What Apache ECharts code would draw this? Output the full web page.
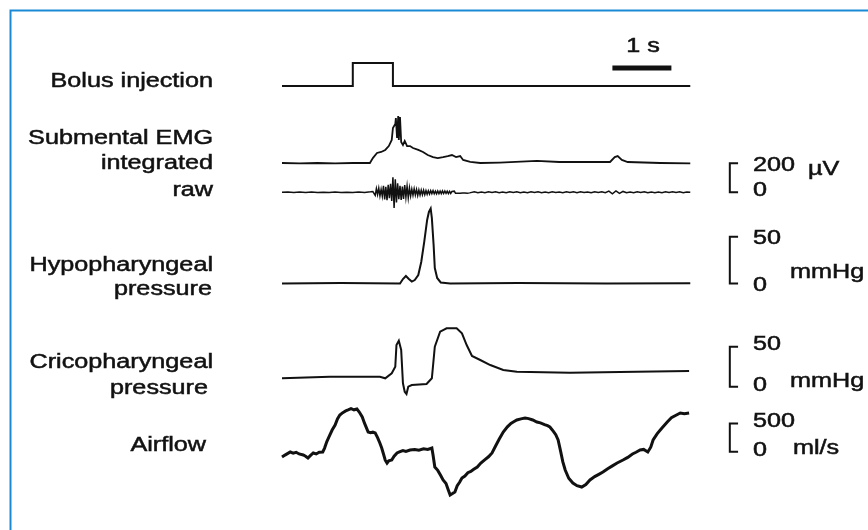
<!DOCTYPE html>
<html><head><meta charset="utf-8">
<script src="https://cdn.jsdelivr.net/npm/echarts@6/dist/echarts.min.js"></script>
<style>html,body{margin:0;padding:0;background:#fff}#c{width:868px;height:530px}</style>
</head><body><div id="c"></div>
<script>
// ---- data (time in s, values in physical units) ----
const bolus = [[0,0],[1.2,0],[1.2,1],[1.88,1],[1.88,0],[6.92,0]];
const timeBar = [[5.6,0.78],[6.6,0.78]];
const emgInt = [[0,0],[0.3,-2],[0.6,0],[0.9,-2],[1.2,0],[1.49,0],[1.54,34],[1.61,69],[1.68,76],[1.75,90],[1.81,117],[1.86,159],[1.88,241],[1.92,269],[1.93,310],[1.95,172],[1.97,324],[1.98,159],[2.0,317],[2.02,145],[2.05,124],[2.08,152],[2.12,117],[2.17,117],[2.22,103],[2.31,90],[2.39,76],[2.47,55],[2.56,41],[2.64,34],[2.73,41],[2.81,48],[2.88,55],[2.95,41],[3.02,48],[3.07,21],[3.19,7],[3.36,0],[3.69,3],[4.32,14],[4.7,7],[5.05,7],[5.56,7],[5.64,41],[5.69,48],[5.76,21],[5.86,7],[6.41,0],[6.92,-3]];
const rawPre = [0,2,-2,2,-1,2,-2,1,-2,2,-2,1,-2,2,-1];            // t = 0 .. 1.4, step 0.1
const rawBurst = [3,-4,5, 18,-22,26,-15,28,-25,20,-27, 45,-50,38,-55,52,-40,58, -60,104,-108,90,-70,62,
  -48,45,-52,40,-46,50,-35,42,-38,30, -25,22,-20,24,-18,20,-22,16,-19,15,-17,14,-16,12,-14,
  10,-12,11,-9,12,-10,8,-11,9,-10,8,-9,10,-8,9,-7,8,-9,7,-8,6,-7,8,-6,7,-6,5,-7,6,-5,6,-5,4,-6,5,-4,5]; // t = 1.5 .. 3.2, step 0.02
const rawPost = [3,-3,2,-3,3,-2,3,-3,2,-3,3,-2,3,-3,2,-3,3,-2,3,-3,2,-3,3,-2,2,-3,3,-2,3,-3,3,-2,2,-3,3,-2,3,-3,
  8,-10,9,-8,6, -3,2,-3,3,-2,3,-3,2,-3,2,-3,3,-2,3,-2,3,-3,2,0]; // t = 3.26 .. 6.92, step 0.06
const hypo = [[0,0],[1.0,0.5],[2.0,0],[2.05,4.8],[2.10,8.0],[2.15,4.8],[2.20,2.1],[2.25,3.7],[2.31,9.1],[2.36,23],[2.41,44.4],[2.46,68],[2.49,76.6],[2.52,80.3],[2.54,70],[2.57,41],[2.59,16.6],[2.63,5.9],[2.69,1.1],[2.85,0],[4.0,0.5],[5.5,0],[6.92,0.3]];
const crico = [[0,10.5],[0.81,12.5],[1.66,12.5],[1.75,10.5],[1.86,16.8],[1.92,25],[1.94,52],[1.98,57.5],[2.02,45.9],[2.05,4.3],[2.08,-6.3],[2.11,-9.1],[2.14,0],[2.20,2.1],[2.45,3.4],[2.54,10.5],[2.59,50],[2.68,68.8],[2.79,73],[2.96,73],[3.05,66.8],[3.13,52.1],[3.22,38.4],[3.36,33.4],[3.53,27.1],[3.75,20.9],[3.98,18.8],[4.88,17.5],[6.01,18.8],[6.90,19.6]];
const airflow = [[0,-94],[0.05,-60],[0.10,-30],[0.14,-5],[0.19,-25],[0.24,-10],[0.29,-40],[0.36,-58],[0.40,-80],[0.44,-111],[0.48,-70],[0.53,-23],[0.58,-40],[0.63,-10],[0.69,-5],[0.72,60],[0.76,180],[0.80,270],[0.85,383],[0.90,470],[0.94,580],[0.98,648],[1.03,690],[1.08,720],[1.12,737],[1.17,760],[1.22,740],[1.27,754],[1.31,700],[1.36,613],[1.40,500],[1.44,400],[1.46,348],[1.50,335],[1.54,345],[1.58,330],[1.62,250],[1.66,150],[1.69,65],[1.72,-40],[1.75,-150],[1.78,-200],[1.81,-160],[1.84,-190],[1.86,-147],[1.90,-80],[1.95,-23],[2.00,0],[2.05,20],[2.10,5],[2.17,30],[2.25,40],[2.32,25],[2.40,50],[2.47,40],[2.54,65],[2.56,-60],[2.59,-270],[2.64,-330],[2.69,-420],[2.73,-500],[2.78,-560],[2.82,-680],[2.85,-765],[2.89,-740],[2.93,-712],[2.97,-600],[3.01,-540],[3.05,-465],[3.10,-430],[3.15,-370],[3.20,-350],[3.25,-310],[3.31,-270],[3.37,-200],[3.44,-140],[3.50,-90],[3.56,-23],[3.62,100],[3.68,220],[3.75,348],[3.82,440],[3.88,500],[3.92,525],[3.98,560],[4.05,580],[4.12,595],[4.18,585],[4.25,560],[4.32,525],[4.38,510],[4.45,480],[4.50,460],[4.54,436],[4.60,360],[4.64,300],[4.68,207],[4.72,20],[4.76,-180],[4.80,-323],[4.86,-470],[4.93,-553],[5.00,-600],[5.08,-624],[5.15,-580],[5.22,-500],[5.30,-440],[5.37,-400],[5.44,-359],[5.52,-300],[5.60,-250],[5.68,-200],[5.78,-147],[5.86,-100],[5.94,-40],[6.00,-10],[6.07,30],[6.13,40],[6.20,-5],[6.25,80],[6.29,207],[6.36,320],[6.44,420],[6.53,525],[6.60,600],[6.67,640],[6.75,684],[6.82,670],[6.90,684]];
// scale brackets [low, high] in each trace's units
const emgScale = [0, 200];
const hypoScale = [0, 50];
const cricoScale = [0, 50];
const airScale = [0, 500];
const labelsLeft = [
  ['Bolus injection', 213, 81], ['Submental EMG', 213, 138], ['integrated', 213, 163], ['raw', 213, 190],
  ['Hypopharyngeal', 213, 265], ['pressure', 212, 289], ['Cricopharyngeal', 213, 362], ['pressure', 208, 388], ['Airflow', 206, 445]
];

// ---- layout ----
const PX_PER_S = 59, X0 = 282, T_MAX = 7.8;
const BR_X = [7.59, 7.73];
function panel(top, bottom, zeroY, pxPerUnit) {
  return { grid: { left: X0, top: top, height: bottom - top, width: T_MAX * PX_PER_S },
           y: { min: -(bottom - zeroY) / pxPerUnit, max: (zeroY - top) / pxPerUnit } };
}
const panels = [
  panel(55, 95, 86, 23),              // bolus (0/1)
  panel(105, 175, 163, 29 / 200),     // EMG integrated (µV)
  panel(150, 215, 192.3, 29 / 200),   // EMG raw (µV)
  panel(200, 295, 283.5, 46.7 / 50),  // hypopharyngeal (mmHg)
  panel(320, 400, 386.7, 40 / 50),    // cricopharyngeal (mmHg)
  panel(400, 505, 451.7, 28.3 / 500)  // airflow (ml/s)
];
function bracket(s) {
  return [[BR_X[1], s[1]], [BR_X[0], s[1]], [BR_X[0], s[0]], [BR_X[1], s[0]]];
}
const rawData = [];
rawPre.forEach((v, i) => rawData.push([+(i * 0.1).toFixed(2), v]));
rawBurst.forEach((v, i) => rawData.push([+(1.5 + i * 0.02).toFixed(2), v]));
rawPost.forEach((v, i) => rawData.push([+(3.26 + i * 0.06).toFixed(2), v]));

const INK = '#111';
function line(idx, data, width) {
  return { type: 'line', xAxisIndex: idx, yAxisIndex: idx, data: data, symbol: 'none', clip: false,
           lineStyle: { color: INK, width: width, join: 'miter', cap: 'butt' }, animation: false, silent: true };
}
const series = [
  line(0, bolus, 2),
  line(0, timeBar, 5),
  line(1, emgInt, 1.8),
  line(2, rawData, 1.5),
  line(2, bracket(emgScale), 2),
  line(3, hypo, 2),
  line(3, bracket(hypoScale), 2),
  line(4, crico, 2),
  line(4, bracket(cricoScale), 2),
  line(5, airflow, 3),
  line(5, bracket(airScale), 2)
];

const FONT = '20px "Liberation Sans", Arial, sans-serif';
const SX = 1.26;
const graphic = [
  { type: 'rect', shape: { x: 10.5, y: 10.5, width: 900, height: 600 }, style: { fill: 'none', stroke: '#1a8ad6', lineWidth: 2 }, silent: true }
];
function txt(t, x, y, a) {
  return { type: 'text', x: x, y: y, scaleX: SX, silent: true,
    style: { text: t, x: 0, y: 0, align: a, verticalAlign: 'middle', font: FONT, fill: INK, stroke: INK, lineWidth: 0.5 } };
}
labelsLeft.forEach(([t, x, y]) => graphic.push(txt(t, x, y, 'right')));
const labelsRight = [
  ['1 s', 643, 46, 'center'],
  ['200', 753, 165, 'left'], ['0', 753, 190, 'left'], ['µV', 808, 169, 'left'],
  ['50', 753, 238, 'left'], ['0', 753, 285, 'left'], ['mmHg', 790, 272, 'left'],
  ['50', 753, 344, 'left'], ['0', 753, 385, 'left'], ['mmHg', 790, 381, 'left'],
  ['500', 753, 421, 'left'], ['0', 753, 450, 'left'], ['ml/s', 793, 448, 'left']
];
labelsRight.forEach(([t, x, y, a]) => graphic.push(txt(t, x, y, a)));

const chart = echarts.init(document.getElementById('c'), null, { renderer: 'canvas' });
chart.setOption({
  backgroundColor: '#fff',
  animation: false,
  grid: panels.map(p => Object.assign({ show: false, containLabel: false, outerBoundsMode: 'none' }, p.grid)),
  xAxis: panels.map((p, i) => ({ type: 'value', gridIndex: i, min: 0, max: T_MAX, show: false })),
  yAxis: panels.map((p, i) => ({ type: 'value', gridIndex: i, min: p.y.min, max: p.y.max, show: false })),
  series: series,
  graphic: graphic
});
</script></body></html>
